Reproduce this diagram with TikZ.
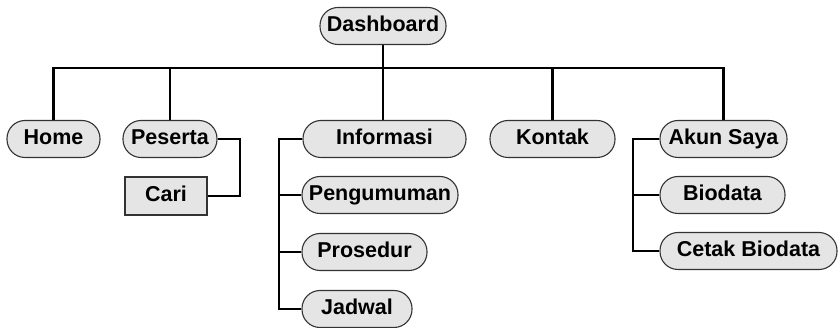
\documentclass[tikz,border=0pt]{standalone}
\usepackage{fontspec}
\setmainfont{Liberation Sans}
\usepackage{tikz}
\usetikzlibrary{positioning}
\pgfdeclarelayer{background}
\pgfdeclarelayer{foreground}
\pgfsetlayers{background,main,foreground}

\begin{document}
\begin{tikzpicture}[x=1pt,y=-1pt,
						menunode/.style={draw=black!80, fill=gray!20, line width=1.1pt, rounded corners=18pt, minimum height=37pt, inner sep=0pt, text height=15.5pt, text depth=4.5pt, font=\fontsize{21.5}{25}\selectfont\bfseries},
						boxnode/.style={draw=black!80, fill=gray!20, line width=1.1pt, minimum height=38pt, inner sep=0pt, text height=15.5pt, text depth=4.5pt, font=\fontsize{21.5}{25}\selectfont\bfseries},
						link/.style={line width=2.2pt, black},
						]
						\useasboundingbox (0,0) rectangle (838,328);
						%Nodes
						\node[menunode, minimum width=126pt]      (dashboard) 	at 	(383,26)           {Dashboard};
						\node[menunode, minimum width=93pt]       (home) 	at 	(53.5,139)         {Home};
						\node[menunode, minimum width=94pt]       (peserta) 	at 	(170,139)          {Peserta};
						\node[boxnode, minimum width=82pt]        (cari) 	at 	(166,196)          {Cari};
						\node[menunode, minimum width=163pt]      (informasi) 	at 	(384.5,139)        {Informasi};
						\node[menunode, minimum width=156pt]      (pengumuman) 	at 	(380,195)          {Pengumuman};
						\node[menunode, minimum width=125pt]      (prosedur) 	at 	(364.5,252)        {Prosedur};
						\node[menunode, minimum width=110pt]      (jadwal) 	at 	(357,309)          {Jadwal};
						\node[menunode, minimum width=125pt]      (kontak) 	at 	(552.5,139)        {Kontak};
						\node[menunode, minimum width=127pt]      (akun) 	at 	(723.5,139)        {Akun Saya};
						\node[menunode, minimum width=125pt]      (biodata) 	at 	(722.5,195)        {Biodata};
						\node[menunode, minimum width=177pt]      (cetak) 	at 	(748.5,251)        {Cetak Biodata};

						\coordinate (bus) at (383,68);
						\coordinate (pbend) at (240,139);
						\coordinate (ibend) at (279,139);
						\coordinate (abend) at (633,139);

						\begin{pgfonlayer}{background}
						%Lines
						\draw[link] (dashboard.south) -- (bus);
						\draw[link] (home.north) |- (bus);
						\draw[link] (peserta.north) |- (bus);
						\draw[link] (informasi.north -| bus) -- (bus);
						\draw[link] (kontak.north) |- (bus);
						\draw[link] (akun.north) |- (bus);

						\draw[link] (peserta.east) -- (pbend) |- (cari.east);

						\draw[link] (informasi.west) -- (ibend) |- (jadwal.west);
						\draw[link] (ibend) |- (pengumuman.west);
						\draw[link] (ibend) |- (prosedur.west);

						\draw[link] (akun.west) -- (abend) |- (cetak.west);
						\draw[link] (abend) |- (biodata.west);
						\end{pgfonlayer}
					\end{tikzpicture}
\end{document}
